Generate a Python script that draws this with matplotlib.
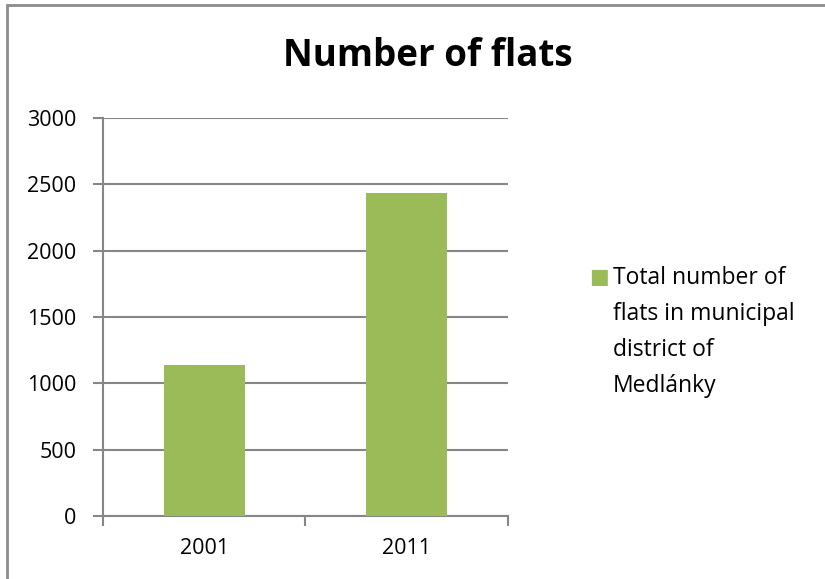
import matplotlib.pyplot as plt
from matplotlib.patches import Rectangle

years = ['2001', '2011']
flats = [1136, 2436]
series_name = 'Total number of\nflats in municipal\ndistrict of\nMedlánky'
y_ticks = [0, 500, 1000, 1500, 2000, 2500, 3000]

plt.rcParams['font.family'] = ['Open Sans', 'DejaVu Sans']

fig = plt.figure(figsize=(8.25, 5.79), dpi=100)
ax = fig.add_axes([0.1248, 0.1088, 0.4910, 0.6873])

x = range(len(years))
ax.bar(x, flats, width=0.4, color='#9BBB59', zorder=3)

ax.set_xlim(-0.5, len(years) - 0.5)
ax.set_ylim(0, 3000)
ax.set_yticks(y_ticks)
ax.set_xticks(list(x))
ax.set_xticklabels(years)
ax.set_xticks([-0.5, 0.5, 1.5], minor=True)
ax.tick_params(axis='x', which='major', length=0, pad=16, labelsize=15.5)
ax.tick_params(axis='x', which='minor', length=7, width=1.5, color='#868686', direction='out')
ax.tick_params(axis='y', length=7, width=1.5, color='#868686', direction='out', pad=12, labelsize=15.5)
ax.grid(axis='y', color='#868686', linewidth=1.5, zorder=0)

for side in ['top', 'right']:
    ax.spines[side].set_visible(False)
for side in ['left', 'bottom']:
    ax.spines[side].set_color('#868686')
    ax.spines[side].set_linewidth(1.5)

fig.text(0.518, 1 - 56 / 579, 'Number of flats', ha='center', va='center',
         fontsize=26.5, fontweight='bold')

# legend: marker and wrapped series name
fig.text(0.7145, 1 - 277 / 579, '\u25A0', ha='left', va='center', fontsize=15,
         color='#9BBB59', family=['DejaVu Sans'])
fig.text(0.743, 1 - 266 / 579, series_name, ha='left', va='top', fontsize=16.5,
         linespacing=1.67)

fig.add_artist(Rectangle((7 / 825, -0.1), 1.2, 1 - 5 / 579 + 0.1,
                         transform=fig.transFigure, fill=False,
                         edgecolor='#8c8c8c', linewidth=2))

fig.savefig('out.png', dpi=100)
